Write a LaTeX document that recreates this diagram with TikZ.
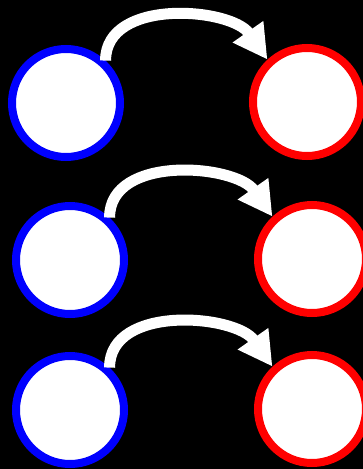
\documentclass[tikz,border=0pt]{standalone}
\usetikzlibrary{arrows.meta}
\begin{document}
\begin{tikzpicture}[x=1pt,y=-1pt,
  ring/.style={circle,draw,fill=white,line width=8pt,minimum size=108pt,inner sep=0pt},
  bluering/.style={ring,draw={rgb,255:red,0;green,0;blue,255}},
  redring/.style={ring,draw={rgb,255:red,255;green,0;blue,0}},
  bigarrow/.style={draw=white,line width=11pt,-{Triangle[length=34pt,width=35pt]}}]
\fill[black] (0,0) rectangle (363,469);
\useasboundingbox (0,0) rectangle (363,469);
\clip (0,0) rectangle (363,469);
\node[bluering] (b1) at (66,103) {};
\node[redring] (r1) at (307,102) {};
\node[bluering] (b2) at (70,260) {};
\node[redring] (r2) at (312,259) {};
\node[bluering] (b3) at (70,410) {};
\node[redring] (r3) at (312,409) {};
\draw[bigarrow] (b1.47) to[out=90,in=125] (r1.133);
\draw[bigarrow] (b2.47) to[out=90,in=125] (r2.133);
\draw[bigarrow] (b3.47) to[out=90,in=125] (r3.133);
\end{tikzpicture}
\end{document}
